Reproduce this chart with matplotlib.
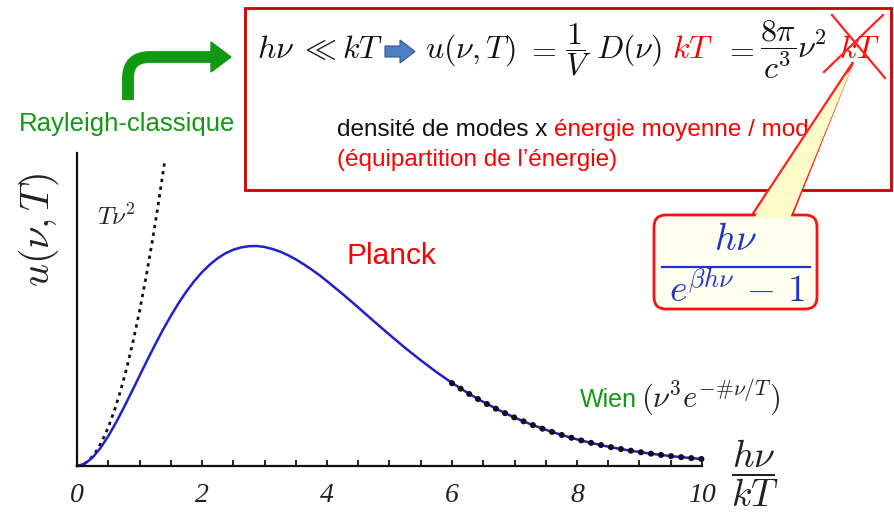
import numpy as np
import matplotlib
matplotlib.use('Agg')
import matplotlib.pyplot as plt
from matplotlib.patches import FancyBboxPatch, Polygon, PathPatch
from matplotlib.path import Path

plt.rcParams['mathtext.fontset'] = 'cm'

# Planck curve u = x^3/(e^x-1)
planck_x = [0, 0.125, 0.25, 0.375, 0.5, 0.625, 0.75, 0.875, 1.0, 1.125, 1.25, 1.375,
            1.5, 1.625, 1.75, 1.875, 2.0, 2.125, 2.25, 2.375, 2.5, 2.625, 2.75,
            2.875, 3.0, 3.125, 3.25, 3.375, 3.5, 3.625, 3.75, 3.875, 4.0, 4.25,
            4.5, 4.75, 5.0, 5.25, 5.5, 5.75, 6.0, 6.25, 6.5, 6.75, 7.0, 7.25, 7.5,
            7.75, 8.0, 8.25, 8.5, 8.75, 9.0, 9.25, 9.5, 9.75, 10.0]
planck_y = [0, 0.0147, 0.055, 0.116, 0.193, 0.281, 0.378, 0.479, 0.582, 0.685,
            0.784, 0.880, 0.969, 1.052, 1.127, 1.194, 1.252, 1.301, 1.342, 1.374,
            1.397, 1.412, 1.420, 1.421, 1.415, 1.402, 1.385, 1.362, 1.335, 1.304,
            1.270, 1.234, 1.194, 1.111, 1.024, 0.935, 0.848, 0.763, 0.683, 0.607,
            0.537, 0.472, 0.414, 0.361, 0.313, 0.271, 0.234, 0.201, 0.172, 0.147,
            0.125, 0.106, 0.090, 0.076, 0.064, 0.054, 0.045]

# Rayleigh-Jeans (T nu^2)
rayleigh_x = [0, 0.1, 0.2, 0.3, 0.4, 0.5, 0.6, 0.7, 0.8, 0.9, 1.0, 1.1, 1.2, 1.3, 1.4]
rayleigh_y = [0, 0.01, 0.04, 0.09, 0.16, 0.25, 0.36, 0.49, 0.64, 0.81, 1.0, 1.21,
              1.44, 1.69, 1.96]

# Wien tail
wien_x = [6.0, 6.25, 6.5, 6.75, 7.0, 7.25, 7.5, 7.75, 8.0, 8.25, 8.5, 8.75, 9.0,
          9.25, 9.5, 9.75, 10.0]
wien_y = [0.535, 0.471, 0.413, 0.360, 0.313, 0.271, 0.233, 0.201, 0.172, 0.147,
          0.125, 0.106, 0.090, 0.076, 0.064, 0.054, 0.045]

xticks = [0, 2, 4, 6, 8, 10]

W, H = 895, 513
fig = plt.figure(figsize=(W / 100, H / 100), dpi=100)

# main axes: origin at pixel (77, 466), x=10 at 702, top at 153
x0, y0, x1, ytop = 77, 466, 702, 153
ax = fig.add_axes([x0 / W, (H - y0) / H, (x1 - x0) / W, (y0 - ytop) / H])
ax.set_xlim(0, 10)
ax.set_ylim(0, (y0 - ytop) / 154.8)
ax.patch.set_alpha(0)
for s in ['top', 'right']:
    ax.spines[s].set_visible(False)
for s in ['left', 'bottom']:
    ax.spines[s].set_linewidth(1.6)
    ax.spines[s].set_color('#111111')
ax.set_yticks([])
ax.set_xticks(xticks)
ax.set_xticks(np.arange(0, 10.01, 0.5), minor=True)
ax.tick_params(axis='x', which='both', direction='in', length=4, width=1.2, pad=12)
for lab in ax.get_xticklabels():
    lab.set_fontfamily('Liberation Serif')
    lab.set_fontstyle('italic')
    lab.set_fontsize(20)
    lab.set_color('#222222')

ax.plot(rayleigh_x, rayleigh_y, color='#111111', lw=2.0,
        linestyle=(0, (1.2, 1.6)), clip_on=False)
ax.plot(planck_x, planck_y, color='#2020cc', lw=1.8, clip_on=False)
ax.plot(wien_x, wien_y, color='#111111', lw=4.4, linestyle=(0, (0.01, 1.65)),
        dash_capstyle='round', clip_on=False)

# overlay in pixel coordinates for annotations
ov = fig.add_axes([0, 0, 1, 1])
ov.set_xlim(0, W)
ov.set_ylim(H, 0)
ov.axis('off')
ov.patch.set_alpha(0)

ov.text(39, 230, r'$u(\nu,T)$', fontsize=29, rotation=90, ha='center', va='center',
        color='#222222')
ov.text(97, 217, r'$T\nu^2$', fontsize=18, ha='left', va='center', color='#222222')
ov.text(755, 473, r'$\dfrac{h\nu}{kT}$', fontsize=27, ha='center', va='center',
        color='#222222')
ov.text(347, 256, 'Planck', fontsize=21.5, fontfamily='Liberation Sans', color='#ff0000',
        ha='left', va='center')
ov.text(580, 400, 'Wien', fontsize=18, fontfamily='Liberation Sans', color='#119911',
        ha='left', va='center')
ov.text(641, 397, r'$(\nu^3 e^{-\#\nu/T})$', fontsize=22, ha='left', va='center',
        color='#222222')
ov.text(19, 124, 'Rayleigh-classique', fontsize=18.5, fontfamily='Liberation Sans',
        color='#119911', ha='left', va='center')

# green bent arrow
g = '#119911'
verts = [(128, 100), (128, 78), (128, 57), (150, 57), (212, 57)]
codes = [Path.MOVETO, Path.LINETO, Path.CURVE3, Path.CURVE3, Path.LINETO]
ov.add_patch(PathPatch(Path(verts, codes), facecolor='none', edgecolor=g, lw=8.5,
                       capstyle='butt'))
ov.add_patch(Polygon([(211, 42), (231, 57), (211, 72)], closed=True, facecolor=g,
                     edgecolor=g))

# red box
ov.add_patch(plt.Rectangle((245, 8), 646, 182, facecolor='white', edgecolor='#cc0000',
                           lw=2))

# formula line, pieces placed at their left edge
fsz = 23
base = 58
pieces = [(257, r'$h\nu$', '#111111'), (299, r'$\ll$', '#111111'),
          (342, r'$kT$', '#111111'), (425, r'$u(\nu,T)$', '#111111'),
          (526, r'$=$', '#111111'), (565, r'$\dfrac{1}{V}$', '#111111'),
          (596, r'$D(\nu)$', '#111111'), (672, r'$kT$', '#ff0000'),
          (724, r'$=$', '#111111'), (760, r'$\dfrac{8\pi}{c^3}$', '#111111'),
          (797, r'$\nu^2$', '#111111'), (839, r'$kT$', '#ff0000')]
for px, s, c in pieces:
    if 'dfrac' in s:
        ov.text(px, 50, s, fontsize=fsz, color=c, ha='left', va='center')
    else:
        ov.text(px, base, s, fontsize=fsz, color=c, ha='left', va='baseline')

# small blue block arrow
a0 = 385
ov.add_patch(Polygon([(a0, 46), (a0 + 15, 46), (a0 + 15, 40), (a0 + 30, 51.5),
                      (a0 + 15, 63), (a0 + 15, 57), (a0, 57)], closed=True,
                     facecolor='#4f7fc0', edgecolor='#2f5590', lw=0.8))

fig.canvas.draw()
renderer = fig.canvas.get_renderer()
t = ov.text(337, 130, 'densité de modes x ', fontsize=17.5, fontfamily='Liberation Sans',
            color='#111111', ha='left', va='center')
xp = 337 + t.get_window_extent(renderer).width
ov.text(xp, 130, 'énergie moyenne / mode', fontsize=17.5, fontfamily='Liberation Sans',
        color='#ff0000', ha='left', va='center')
ov.text(337, 160, '(équipartition de l\u2019énergie)', fontsize=17.5,
        fontfamily='Liberation Sans', color='#ff0000', ha='left', va='center')

# callout
yel = '#fdfcc8'
tip = (853, 62)
ov.add_patch(Polygon([(752, 215), tip, (792, 215)], closed=True, facecolor=yel,
                     edgecolor='#ff2020', lw=1.6, zorder=3))
ov.add_patch(FancyBboxPatch((654, 215), 163, 94, boxstyle='round,pad=0,rounding_size=12',
                            facecolor='#fffff0', edgecolor='#ff1010', lw=2, zorder=4))
ov.add_patch(Polygon([(754, 218), (tip[0] - 1, tip[1] + 5), (790, 218)], closed=True,
                     facecolor=yel, edgecolor='none', zorder=5))
ov.text(736, 240, r'$h\nu$', fontsize=27, color='#2233cc', ha='center', va='center',
        zorder=6)
ov.plot([662, 810], [267, 267], color='#2233cc', lw=1.6, zorder=6)
ov.text(737, 291, r'$e^{\beta h\nu}\,-\,1$', fontsize=27, color='#2233cc', ha='center',
        va='center', zorder=6)

# red cross on kT
ov.plot([832, 885], [15, 78], color='#ff2020', lw=1.6, zorder=7)
ov.plot([883, 824], [15, 72], color='#ff2020', lw=1.6, zorder=7)

fig.savefig('out.png', dpi=100)
